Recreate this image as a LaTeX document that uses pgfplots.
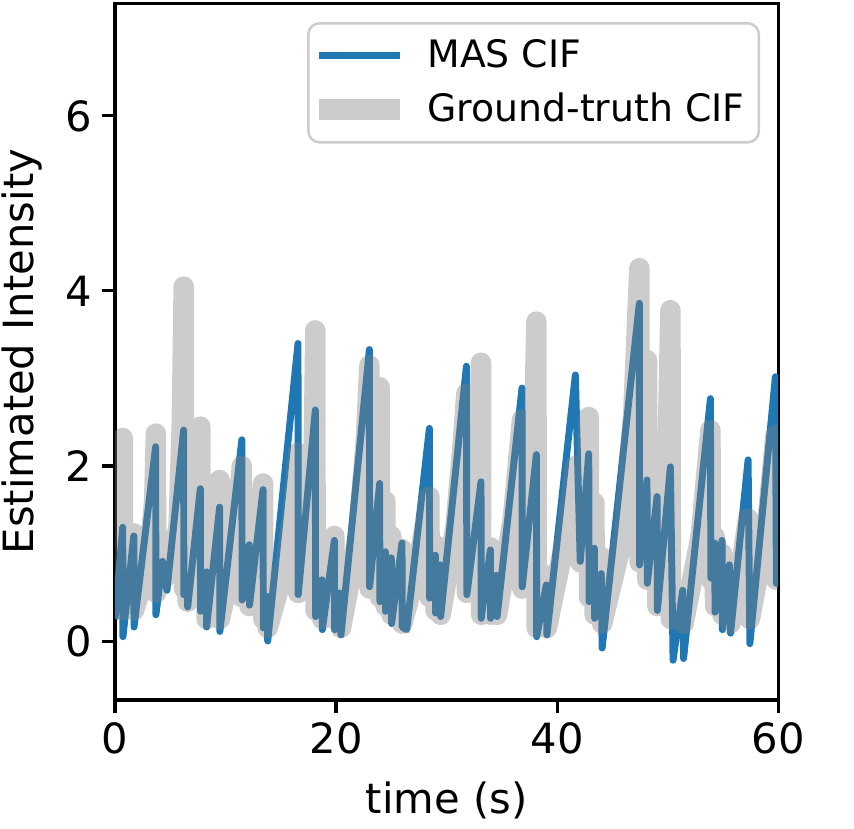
\documentclass[border=0pt]{standalone}
\usepackage{fontspec}
\setmainfont{DejaVu Sans}
\usepackage{pgfplots}
\usepackage{pgfplotstable}
\pgfplotsset{compat=1.18}
\definecolor{mplblue}{HTML}{1F77B4}
\definecolor{legedge}{HTML}{CCCCCC}

% Estimated conditional intensity (MAS)
\pgfplotstableread{
t v
0.00 0.25
0.70 1.30
0.72 0.05
1.70 1.20
1.72 0.16
3.68 2.22
3.70 0.30
4.30 0.91
4.70 0.58
6.21 2.41
6.23 0.53
6.55 0.62
6.58 0.39
7.72 1.74
7.74 0.34
8.27 0.79
8.29 0.16
9.47 1.53
9.49 0.11
11.48 2.30
11.50 0.47
12.15 1.10
12.17 0.41
13.40 1.73
13.42 0.15
13.78 0.51
13.82 0.00
16.56 3.40
16.58 0.53
18.13 2.64
18.15 0.28
18.73 0.70
18.76 0.13
19.85 1.15
19.87 0.13
20.30 0.55
20.45 0.07
23.02 3.33
23.04 0.62
23.95 1.80
23.97 0.45
24.46 1.02
24.48 0.34
25.00 0.95
25.03 0.20
25.97 1.12
25.99 0.16
26.40 0.13
28.45 2.43
28.47 0.49
28.99 0.98
29.01 0.32
29.44 0.87
29.47 0.28
31.80 3.14
31.84 0.53
33.12 1.82
33.14 0.26
33.97 1.04
33.99 0.26
34.50 0.75
34.58 0.28
36.83 2.89
36.85 0.62
38.13 2.13
38.16 0.05
39.03 0.64
39.08 0.07
41.66 3.04
42.10 0.91
42.87 2.14
42.90 0.45
43.38 1.06
43.41 0.26
44.00 0.77
44.08 -0.08
47.45 3.86
47.47 0.87
48.14 1.84
48.17 0.66
49.05 1.65
49.08 0.35
50.26 1.99
50.50 -0.22
51.37 0.58
51.45 -0.20
53.88 2.77
53.92 0.72
54.27 1.12
54.30 0.33
54.93 1.15
54.96 0.13
55.60 0.87
55.70 0.09
57.29 2.07
57.45 -0.03
59.76 3.02
59.85 0.66
60.00 0.75
}\mascif

% Ground-truth conditional intensity
\pgfplotstableread{
t v
0.00 0.55
0.45 0.90
0.70 2.32
0.72 0.35
1.30 0.60
1.70 1.23
1.72 0.35
3.00 0.85
3.55 1.60
3.70 2.37
3.72 0.55
4.30 0.95
4.32 0.70
4.70 0.75
5.76 1.31
6.05 2.50
6.22 4.05
6.24 0.60
6.55 0.72
6.58 0.45
7.20 0.90
7.55 1.60
7.72 2.45
7.74 0.50
8.27 0.85
8.29 0.25
9.00 0.80
9.47 1.84
9.49 0.25
10.80 1.00
11.48 2.00
11.50 0.50
12.15 1.00
12.17 0.40
13.00 1.00
13.40 1.80
13.42 0.25
13.80 0.45
13.82 0.15
15.50 0.90
16.20 1.60
16.56 2.15
16.58 0.55
17.60 1.00
17.95 1.80
18.13 3.55
18.15 0.35
18.73 1.10
18.76 0.25
19.85 1.20
19.87 0.25
20.30 0.55
20.45 0.15
22.00 1.20
22.70 2.30
23.02 3.15
23.04 0.60
23.70 1.60
23.95 2.90
23.97 0.50
24.46 1.60
24.48 0.40
25.00 1.20
25.03 0.30
25.97 1.05
25.99 0.20
27.50 0.90
28.45 1.65
28.47 0.50
28.99 1.10
29.01 0.35
29.44 1.00
29.47 0.30
30.80 1.30
31.50 2.30
31.80 2.83
31.84 0.55
32.80 1.40
33.12 3.18
33.14 0.30
33.97 1.07
33.99 0.30
34.50 0.90
34.58 0.30
36.00 1.40
36.83 2.53
36.85 0.60
37.80 1.60
38.13 3.65
38.16 0.15
39.03 0.75
39.08 0.15
40.80 1.20
41.66 2.00
42.10 0.90
42.60 1.60
42.87 2.56
42.90 0.50
43.38 1.58
43.41 0.30
44.00 0.96
44.08 0.20
46.00 1.20
46.90 2.60
47.45 4.26
47.47 0.90
47.90 1.60
48.14 3.21
48.17 0.70
49.05 1.40
49.08 0.40
49.90 1.50
50.26 3.78
50.30 0.25
51.37 0.55
51.45 0.20
53.00 1.20
53.88 2.41
53.92 0.70
54.27 1.19
54.30 0.40
54.93 1.00
54.96 0.30
55.60 0.90
55.70 0.20
56.60 0.80
57.29 1.40
57.45 0.25
59.00 1.30
59.76 2.35
59.85 0.70
60.00 0.90
}\gtcif

\begin{document}
\begin{tikzpicture}
\begin{axis}[
  at={(0,0)}, anchor=south west,
  scale only axis, width=238.7pt, height=250.9pt,
  xmin=0, xmax=60, ymin=-0.674, ymax=7.29,
  xtick={0,20,40,60}, ytick={0,2,4,6},
  tick align=outside, tick pos=left,
  major tick length=4.6pt,
  every tick/.style={black, line width=1.1pt},
  axis line style={line width=1.1pt},
  /pgf/number format/assume math mode=true,
  ticklabel style={font=\fontsize{15}{18}\selectfont},
  xlabel={time (s)}, ylabel={Estimated Intensity},
  every axis x label/.style={at={(axis description cs:0.5,-0.1435)}, anchor=center,
    font=\fontsize{15}{18}\selectfont},
  every axis y label/.style={at={(axis description cs:-0.140,0.5)}, anchor=center, rotate=90,
    font=\fontsize{15}{18}\selectfont},
  legend cell align=left,
  legend image code/.code={\draw[#1] (0pt,0pt) -- (29pt,0pt);},
  legend style={
    at={(axis description cs:0.9729,0.9727)}, anchor=north east,
    draw=legedge, line width=0.9pt, rounded corners=4pt, fill=white,
    font=\fontsize{13.6}{16}\selectfont,
    nodes={inner ysep=1.5pt, inner xsep=4.9pt},
    inner xsep=0.3pt, inner ysep=4.4pt, row sep=4.6pt,
    /tikz/every odd column/.append style={column sep=1.3pt},
  },
]
\addplot[mplblue, line width=2.5pt, line join=round] table[x=t, y=v] {\mascif};
\addlegendentry{MAS CIF}
\addplot[gray, opacity=0.4, line width=7.4pt, line join=round] table[x=t, y=v] {\gtcif};
\addlegendentry{Ground-truth CIF}
\end{axis}
\pgfresetboundingbox
\useasboundingbox (-41.4pt,-46.08pt) rectangle (266.04pt,252pt);
\end{tikzpicture}
\end{document}
